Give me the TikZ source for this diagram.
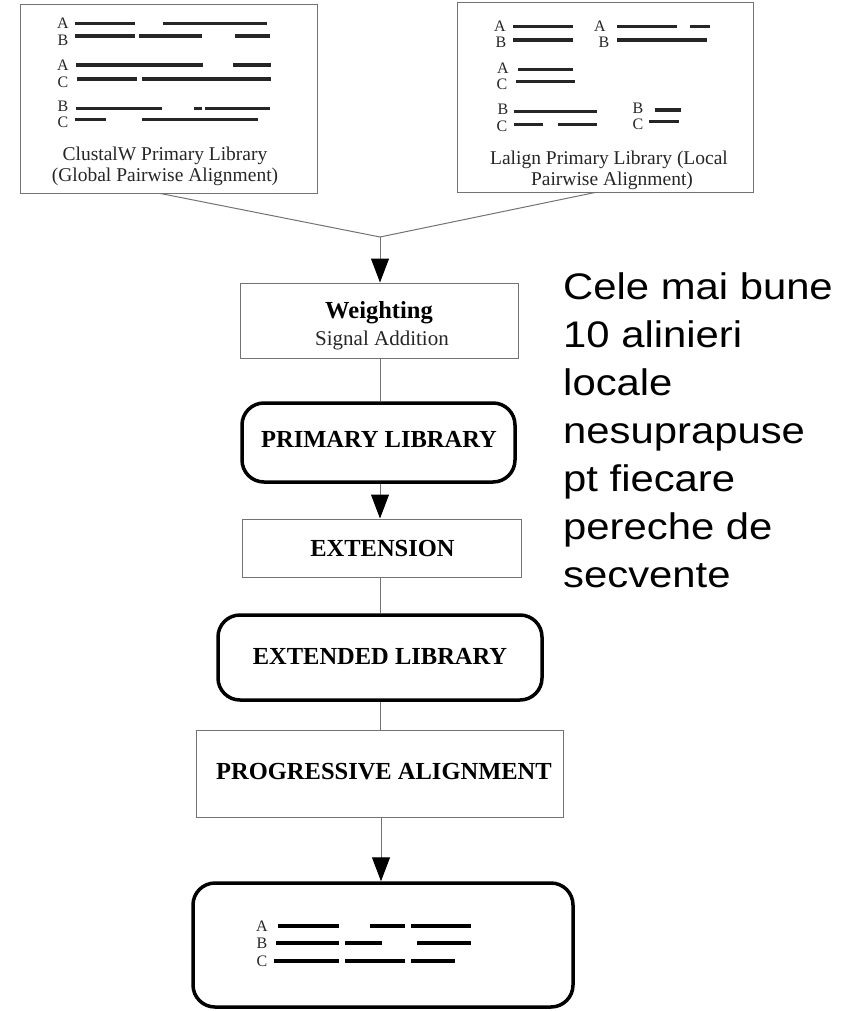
\documentclass[tikz,border=0pt]{standalone}
\usepackage{fontspec}
\setmainfont{Liberation Serif}
\newfontfamily\arialf{Liberation Sans}
\usetikzlibrary{arrows.meta}
\begin{document}
\begin{tikzpicture}[x=1pt,y=-1pt,
  thinbox/.style={draw=black!55, line width=1pt, inner sep=0pt},
  roundbox/.style={draw=black, line width=3.5pt, rounded corners=22pt, inner sep=0pt},
  bar/.style={line width=3.5pt, black!85},
  fbar/.style={line width=4pt, black},
  seqlab/.style={font=\fontsize{16}{16}\selectfont, inner sep=0pt, text=black!85},
  capt/.style={font=\fontsize{19.5}{21}\selectfont, inner sep=0pt, anchor=base, text=black!85},
  titl/.style={font=\bfseries\fontsize{24.5}{26}\selectfont, inner sep=0pt, anchor=base},
  conn/.style={draw=black!55, line width=1pt},
  arr/.style={conn, -{Triangle[width=18pt,length=24pt,color=black]}},
]
\useasboundingbox (0,0) rectangle (850,1011);
\fill[white] (0,0) rectangle (850,1011);

% top library boxes
\node[thinbox, minimum width=297pt, minimum height=188pt] (clw) at (168.5,99) {};
\node[thinbox, minimum width=296pt, minimum height=189pt] (lal) at (605,97.5) {};

\node[capt] (clw1) at (165,161) {ClustalW Primary Library};
\node[capt] (clw2) at (165,182) {(Global Pairwise Alignment)};
\node[capt] (lal1) at (609,165) {Lalign Primary Library (Local};
\node[capt] (lal2) at (612,185.5) {Pairwise Alignment)};

% ClustalW sequence labels
\foreach \t/\x/\y [count=\i] in {A/63/23.5,B/63/40,A/63/65.5,C/63/82,B/63/106.5,C/63/122.5}
  \node[seqlab] (cl\i) at (\x,\y) {\t};
\foreach \y/\a/\b in {23.3/75/135, 23.3/163/267,
                      36/75/135, 36/139/202, 36/235/270,
                      65/76/203, 65/233/271,
                      79/77/137, 79/142/271,
                      108.3/76/162, 108.3/194/202, 108.3/205/270,
                      119.3/75/106, 119.3/142/258}
  \draw[bar] (\a,\y) -- (\b,\y);

% Lalign sequence labels
\foreach \t/\x/\y [count=\i] in {A/500/26,B/501/42,A/600/26,B/604/42,A/503/68.5,C/502/84.5,B/503/109,C/502/126,B/638/108,C/638/124}
  \node[seqlab] (ll\i) at (\x,\y) {\t};
\foreach \y/\a/\b in {26.7/513/573, 26.7/617/677, 26.7/690/710,
                      40/513/573, 40/617/707,
                      69.3/518/573, 81.7/516/575,
                      111.7/514/597, 124.3/514/543, 124.3/558/597,
                      110/655/681, 121.7/649/679}
  \draw[bar] (\a,\y) -- (\b,\y);

% flow boxes
\node[thinbox, minimum width=278pt, minimum height=75pt] (wgt) at (379,320.5) {};
\node[titl] (wgt1) at (379,318) {Weighting};
\node[capt, font=\fontsize{21}{22}\selectfont] (wgt2) at (382,345) {Signal Addition};

\node[roundbox, minimum width=273pt, minimum height=79pt] (prim) at (378.5,442.5) {};
\node[titl] (prim1) at (379,447) {PRIMARY LIBRARY};

\node[thinbox, minimum width=279pt, minimum height=58pt] (ext) at (381.5,548) {};
\node[titl] (ext1) at (382.5,556) {EXTENSION};

\node[roundbox, minimum width=324pt, minimum height=85pt] (extd) at (380,657.5) {};
\node[titl] (extd1) at (380,664) {EXTENDED LIBRARY};

\node[thinbox, minimum width=367pt, minimum height=87pt] (prog) at (379.5,773.5) {};
\node[titl] (prog1) at (384,779) {PROGRESSIVE ALIGNMENT};

\node[roundbox, minimum width=380pt, minimum height=124pt] (fin) at (383,945) {};
\foreach \t/\x/\y [count=\i] in {A/262/926.5,B/262/943.5,C/262/961}
  \node[seqlab] (fl\i) at (\x,\y) {\t};
\foreach \y/\a/\b in {926/278/339, 926/370/405, 926/411/471,
                      942.7/276/339, 942.7/345/382, 942.7/417/471,
                      960.7/274/339, 960.7/345/405, 960.7/411/455}
  \draw[fbar] (\a,\y) -- (\b,\y);

% connectors
\coordinate (m) at (380,237);
\draw[conn] ([xshift=-8pt]clw.south) -- (m);
\draw[conn] ([xshift=-10pt]lal.south) -- (m);
\draw[arr] (m) -- (m |- wgt.north);
\draw[conn] (m |- wgt.south) -- (m |- prim.north);
\draw[arr] (m |- prim.south) -- (m |- ext.north);
\draw[conn] (m |- ext.south) -- (m |- extd.north);
\draw[conn] (m |- extd.south) -- (m |- prog.north);
\draw[arr] ([xshift=1pt]m |- prog.south) -- ([xshift=1pt]m |- fin.north);

% annotation
\node[anchor=north west, inner sep=0pt, align=left, xscale=1.13, transform shape,
      font=\arialf\fontsize{37}{48}\selectfont] (note) at (563,272.5)
  {Cele mai bune\\10 alinieri\\locale\\nesuprapuse\\pt fiecare\\pereche de\\secvente};
\end{tikzpicture}
\end{document}
